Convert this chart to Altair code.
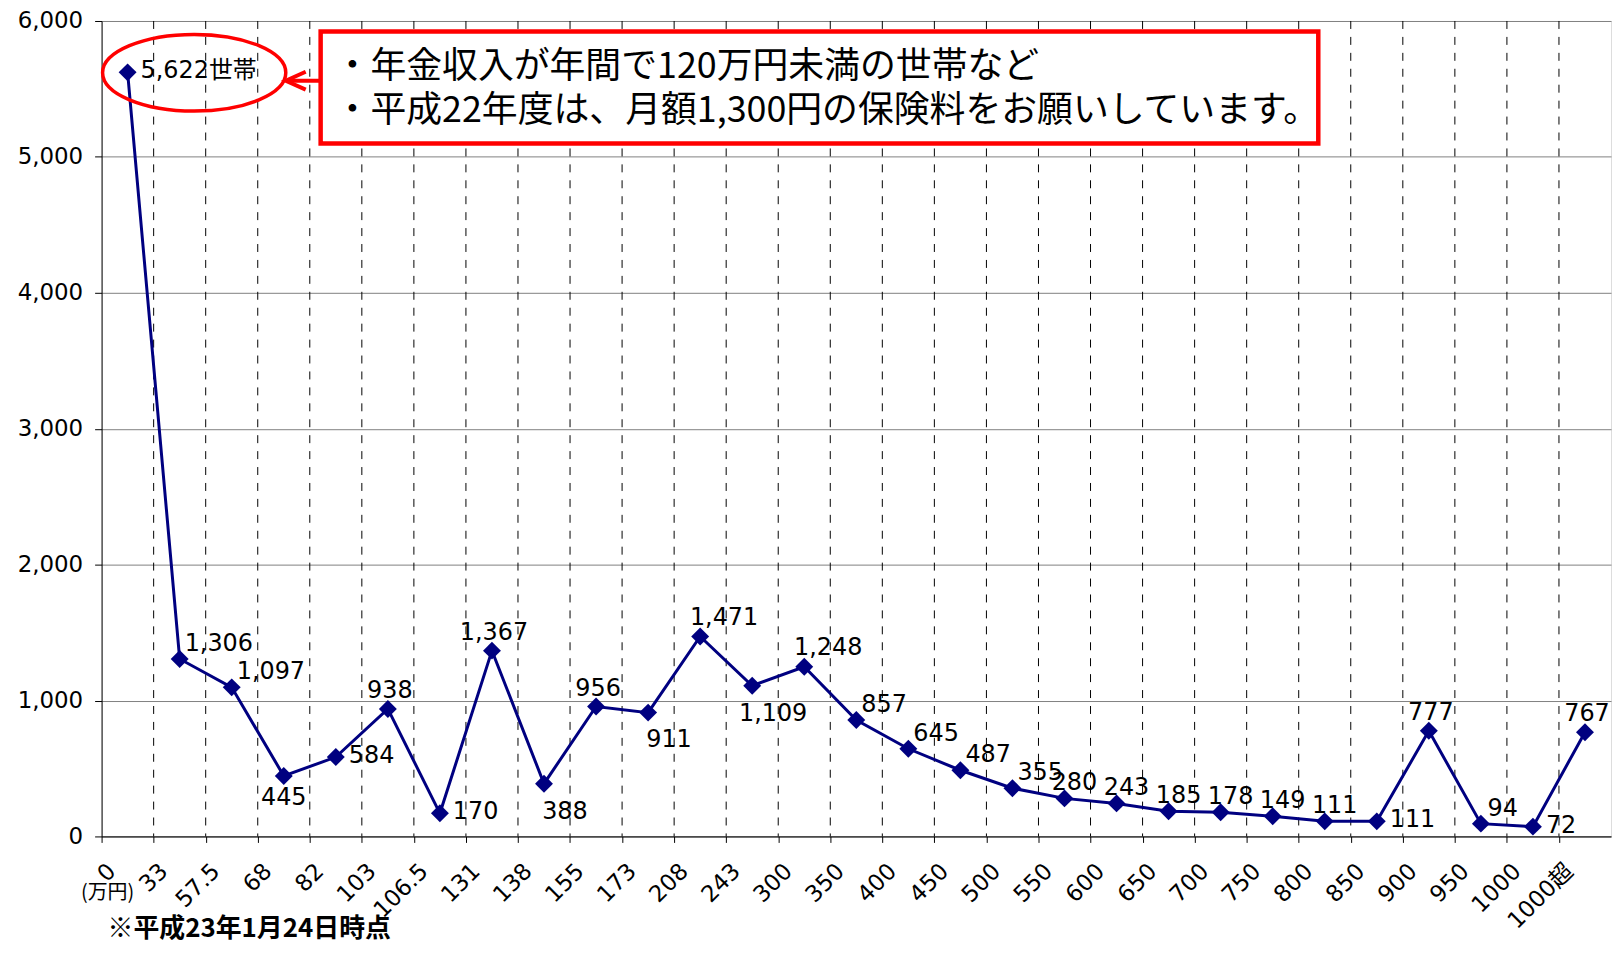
import json
import altair as alt
import pandas as pd

# ---- data ----
bracket_labels = ["0", "33", "57.5", "68", "82", "103", "106.5", "131", "138", "155",
                  "173", "208", "243", "300", "350", "400", "450", "500", "550", "600",
                  "650", "700", "750", "800", "850", "900", "950", "1000", "1000超"]
households = [5622, 1306, 1097, 445, 584, 938, 170, 1367, 388, 956, 911, 1471, 1109, 1248,
              857, 645, 487, 355, 280, 243, 185, 178, 149, 111, 111, 777, 94, 72, 767]
label_side = ["right", "upper_right", "upper_right", "below", "right", "above", "right",
              "above", "below_right", "above", "below_right", "above_right", "below_right",
              "above_right", "upper_right", "upper_right", "upper_right", "upper_right",
              "top_near", "top_near", "top_near", "top_near", "top_near", "top_near",
              "right", "above", "upper_far", "right", "above"]
first_suffix = "世帯"
box_lines = ["・年金収入が年間で120万円未満の世帯など",
             "・平成22年度は、月額1,300円の保険料をお願いしています。"]
footnote = "※平成23年1月24日時点"
unit_label = "(万円)"

# ---- styling ----
NAVY = "#000080"
RED = "#FF0000"
NUM_FONT = "DejaVu Sans"
JP_FONT = "Noto Sans CJK JP"
W, H = 1516, 819
n = len(households)

side_style = {
    "right": ("left", 13, -1),
    "upper_right": ("left", 5, -15),
    "below": ("center", 0, 22),
    "above": ("center", 2, -18),
    "below_right": ("center", 21, 28),
    "above_right": ("center", 24, -19),
    "top_near": ("center", 10, -15),
    "upper_far": ("center", 22, -15),
}

texts = [f"{v:,}" for v in households]
texts[0] = texts[0] + first_suffix
df = pd.DataFrame({
    "pos": [i + 0.5 for i in range(n)],
    "value": households,
    "text": texts,
    "side": label_side,
})
bounds = pd.DataFrame({"b": list(range(1, n))})
one = pd.DataFrame({"a": [0]})

xscale = alt.Scale(domain=[0, n], nice=False, zero=False)
yscale = alt.Scale(domain=[0, 6000], nice=False)

label_expr = ("datum.value % 1 == 0 ? " + json.dumps(bracket_labels, ensure_ascii=False)
              + "[datum.value] : ''")

x_axis = alt.Axis(values=[k / 2 for k in range(2 * n)], labelExpr=label_expr,
                  labelAngle=-45, labelAlign="right", labelBaseline="middle",
                  labelOffset=10, labelPadding=25, tickSize=6, tickColor="black",
                  domainColor="black", grid=False, labelFontSize=23,
                  labelFont=NUM_FONT + ", " + JP_FONT,
                  labelColor="black", labelOverlap=False, labelFlush=False,
                  labelBound=False, title=None)
y_axis = alt.Axis(values=[0, 1000, 2000, 3000, 4000, 5000, 6000], format=",.0f",
                  tickSize=7, labelPadding=12, gridColor="#808080", gridWidth=1,
                  domainColor="black", tickColor="black", labelFontSize=23,
                  labelFont=NUM_FONT, labelColor="black", title=None)

grid_v = alt.Chart(bounds).mark_rule(strokeDash=[8, 8], color="#000000", strokeWidth=1).encode(
    x=alt.X("b:Q", scale=xscale, axis=x_axis)
)

box = alt.Chart(one).mark_rect(fill="white", stroke=RED, strokeWidth=4.5).encode(
    x=alt.value(220), x2=alt.value(1222), y=alt.value(10.5), y2=alt.value(123)
)
box_t1 = alt.Chart(one).mark_text(align="left", baseline="middle", font=JP_FONT,
                                  fontSize=36, color="black").encode(
    x=alt.value(234), y=alt.value(46), text=alt.value(box_lines[0]))
box_t2 = alt.Chart(one).mark_text(align="left", baseline="middle", font=JP_FONT,
                                  fontSize=36, color="black").encode(
    x=alt.value(234), y=alt.value(90), text=alt.value(box_lines[1]))

arrow_line = alt.Chart(one).mark_rule(color=RED, strokeWidth=4).encode(
    x=alt.value(186), x2=alt.value(220), y=alt.value(60))
arrow_head = alt.Chart(one).mark_point(
    shape="M1,-0.45 L0,0 L1,0.45", filled=False, stroke=RED, strokeWidth=4,
    size=1600, opacity=1, strokeJoin="miter").encode(x=alt.value(185), y=alt.value(60))

k = 0.5523
ry = 0.418
ellipse_path = (f"M1,0 C1,{k*ry:.4f} {k:.4f},{ry} 0,{ry} C{-k:.4f},{ry} -1,{k*ry:.4f} -1,0 "
                f"C-1,{-k*ry:.4f} {-k:.4f},{-ry} 0,{-ry} C{k:.4f},{-ry} 1,{-k*ry:.4f} 1,0 Z")
ellipse = alt.Chart(one).mark_point(shape=ellipse_path, filled=False, stroke=RED,
                                    strokeWidth=3.5, size=184 * 184, opacity=1).encode(
    x=alt.value(93), y=alt.value(52))

line = alt.Chart(df).mark_line(color=NAVY, strokeWidth=3).encode(
    x=alt.X("pos:Q", scale=xscale, axis=x_axis),
    y=alt.Y("value:Q", scale=yscale, axis=y_axis),
)
pts = alt.Chart(df).mark_point(shape="diamond", filled=True, color=NAVY, size=324,
                               opacity=1).encode(
    x=alt.X("pos:Q", scale=xscale), y=alt.Y("value:Q", scale=yscale))

label_layers = []
for side, (align, dx, dy) in side_style.items():
    label_layers.append(
        alt.Chart(df).transform_filter(alt.datum.side == side).mark_text(
            align=align, baseline="middle", dx=dx, dy=dy, fontSize=24,
            font=NUM_FONT + ", " + JP_FONT, color="black").encode(
            x=alt.X("pos:Q", scale=xscale), y=alt.Y("value:Q", scale=yscale),
            text="text:N")
    )

unit = alt.Chart(one).mark_text(align="center", baseline="middle", font=JP_FONT,
                                fontSize=20, color="black").encode(
    x=alt.value(6), y=alt.value(876), text=alt.value(unit_label))
foot = alt.Chart(one).mark_text(align="left", baseline="middle", font=JP_FONT,
                                fontSize=26, fontWeight="bold", color="black").encode(
    x=alt.value(6), y=alt.value(912), text=alt.value(footnote))

chart = alt.layer(
    grid_v, line, pts, *label_layers, box, box_t1, box_t2, arrow_line, arrow_head,
    ellipse, unit, foot
).properties(
    width=W, height=H,
    autosize=alt.AutoSizeParams(type="none"),
    padding={"left": 94, "top": 11, "right": 2, "bottom": 108},
).configure_view(stroke="#808080", strokeWidth=1).configure(font=NUM_FONT, background="white")

chart.save("out.html", embed_options={"renderer": "svg", "actions": False})
